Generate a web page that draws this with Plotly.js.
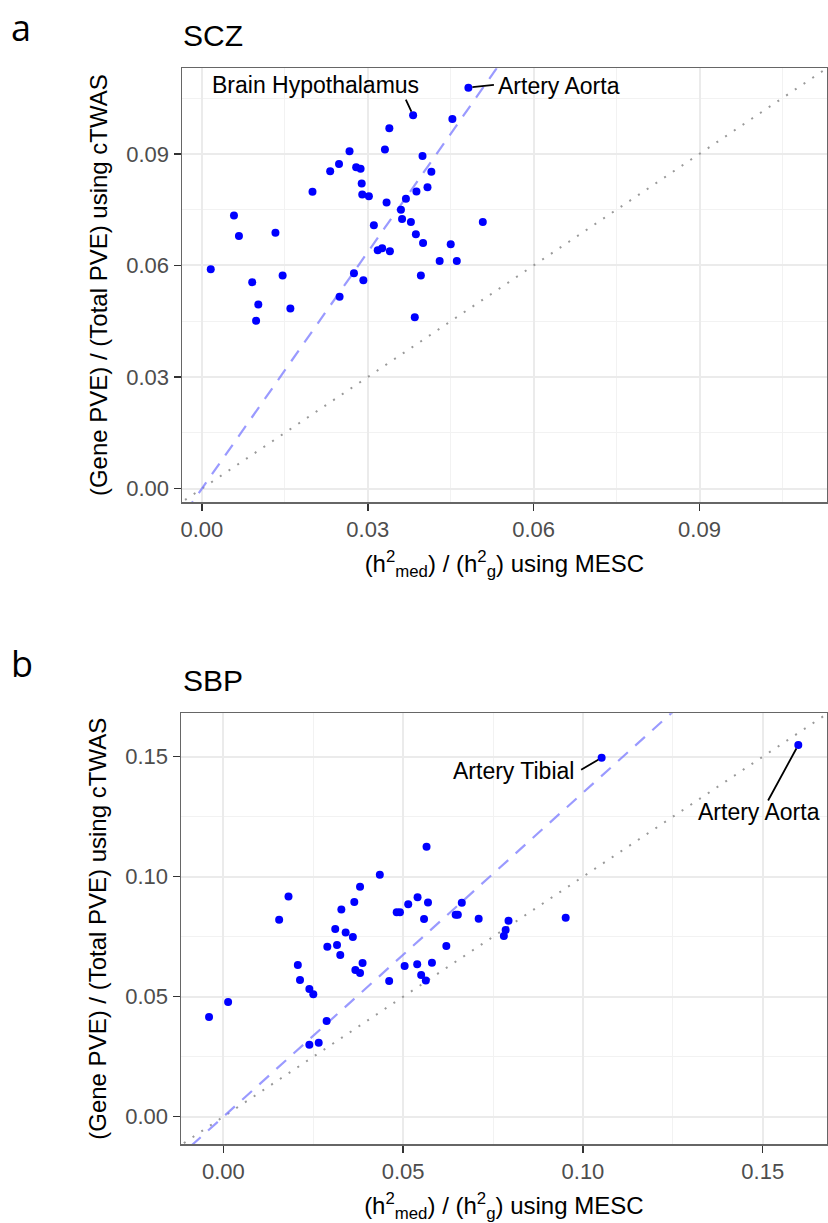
<!DOCTYPE html>
<html>
<head>
<meta charset="utf-8">
<script src="https://cdn.plot.ly/plotly-3.0.1.min.js"></script>
<style>
  html, body { margin: 0; padding: 0; background: #ffffff; }
  #chart { width: 828px; height: 1223px; }
</style>
</head>
<body>
<div id="chart"></div>
<script>
// ---------- Data ----------
// Panel a: SCZ. First two entries are labelled tissues.
const sczLabels = ["Artery Aorta", "Brain Hypothalamus"];
const sczX = [0.0482, 0.0382, 0.0453, 0.0339, 0.0331, 0.0267, 0.0399, 0.0248, 0.0232, 0.0279,
              0.0287, 0.0415, 0.0289, 0.0408, 0.0200, 0.0388, 0.0290, 0.0302, 0.0369, 0.0334,
              0.0360, 0.0362, 0.0378, 0.0058, 0.0067, 0.0133, 0.0508, 0.0311, 0.0387, 0.0400,
              0.0450, 0.0318, 0.0326, 0.0340, 0.0430, 0.0461, 0.0016, 0.0275, 0.0146, 0.0396,
              0.0091, 0.0292, 0.0249, 0.0102, 0.0160, 0.0098, 0.0385];
const sczY = [0.1078, 0.1004, 0.0994, 0.0969, 0.0912, 0.0907, 0.0894, 0.0873, 0.0853, 0.0864,
              0.0860, 0.0852, 0.0820, 0.0810, 0.0798, 0.0799, 0.0791, 0.0786, 0.0779, 0.0769,
              0.0750, 0.0725, 0.0717, 0.0734, 0.0679, 0.0688, 0.0717, 0.0708, 0.0684, 0.0660,
              0.0657, 0.0641, 0.0646, 0.0638, 0.0612, 0.0612, 0.0590, 0.0579, 0.0573, 0.0573,
              0.0555, 0.0560, 0.0516, 0.0495, 0.0484, 0.0451, 0.0461];
const sczSlope = 2.12;   // dashed reference line (blue)

// Panel b: SBP. First two entries are labelled tissues.
const sbpLabels = ["Artery Aorta", "Artery Tibial"];
const sbpX = [0.1599, 0.1052, 0.0565, 0.0435, 0.0380, 0.0181, 0.0364, 0.0540, 0.0569, 0.0514,
              0.0663, 0.0328, 0.0482, 0.0491, 0.0646, 0.0652, 0.0558, 0.0710, 0.0155, 0.0311,
              0.0340, 0.0360, 0.0289, 0.0316, 0.0620, 0.0325, 0.0207, 0.0387, 0.0367, 0.0380,
              0.0504, 0.0539, 0.0580, 0.0550, 0.0563, 0.0461, 0.0213, 0.0239, 0.0250, 0.0013,
              -0.0040, 0.0287, 0.0239, 0.0265, 0.0793, 0.0785, 0.0780, 0.0952];
const sbpY = [0.1549, 0.1496, 0.1125, 0.1008, 0.0958, 0.0918, 0.0895, 0.0914, 0.0893, 0.0885,
              0.0892, 0.0863, 0.0852, 0.0852, 0.0842, 0.0842, 0.0824, 0.0825, 0.0821, 0.0782,
              0.0768, 0.0749, 0.0708, 0.0715, 0.0711, 0.0674, 0.0632, 0.0640, 0.0611, 0.0599,
              0.0628, 0.0635, 0.0642, 0.0590, 0.0568, 0.0565, 0.0570, 0.0532, 0.0510, 0.0478,
              0.0415, 0.0399, 0.0300, 0.0308, 0.0817, 0.0778, 0.0753, 0.0829];
const sbpSlope = 1.35;

const sczTicks = [0, 0.03, 0.06, 0.09];
const sbpTicks = [0, 0.05, 0.10, 0.15];
const sczRange = [-0.0036, 0.1130];
const sbpRangeX = [-0.0118, 0.1678];
const sbpRangeY = [-0.0115, 0.1681];

// ---------- Styling ----------
const FONT = "Liberation Sans, Arial, Helvetica, sans-serif";
const W = 828, H = 1223;
const px = v => v / W;
const py = v => 1 - v / H;

function lineTrace(slope, range, xa, ya, color, dash, width) {
  return {
    x: [range[0] - 1, range[1] + 1],
    y: [slope * (range[0] - 1), slope * (range[1] + 1)],
    xaxis: xa, yaxis: ya, mode: 'lines', hoverinfo: 'skip', showlegend: false,
    line: { color: color, dash: dash, width: width }
  };
}
function pointTrace(xs, ys, xa, ya) {
  return {
    x: xs, y: ys, xaxis: xa, yaxis: ya, mode: 'markers', type: 'scatter',
    showlegend: false, hoverinfo: 'skip',
    marker: { color: '#0000ff', size: 8, line: { width: 0 } }
  };
}

const traces = [
  lineTrace(1, sczRange, 'x', 'y', '#999999', '2px,8.5px', 2),
  lineTrace(sczSlope, sczRange, 'x', 'y', 'rgba(120,120,255,0.75)', '13px,10px', 2.2),
  pointTrace(sczX, sczY, 'x', 'y'),
  lineTrace(1, sbpRangeX, 'x2', 'y2', '#999999', '2px,8.5px', 2),
  lineTrace(sbpSlope, sbpRangeX, 'x2', 'y2', 'rgba(120,120,255,0.75)', '13px,10px', 2.2),
  pointTrace(sbpX, sbpY, 'x2', 'y2')
];

function axisBase(range, ticks, minorStep, domain, anchor, titleText, standoff) {
  return {
    domain: domain, anchor: anchor, range: range,
    tickmode: 'array', tickvals: ticks, ticktext: ticks.map(v => v.toFixed(2)),
    ticks: 'outside', ticklen: 7, tickwidth: 1.5, tickcolor: '#333333',
    tickfont: { family: FONT, size: 22, color: '#4d4d4d' },
    showline: true, mirror: true, linecolor: '#666666', linewidth: 1.5,
    showgrid: true, gridcolor: '#ebebeb', gridwidth: 2,
    zeroline: false,
    minor: { tick0: 0, dtick: minorStep, showgrid: true, gridcolor: '#f2f2f2', gridwidth: 1 },
    title: { text: titleText, font: { family: FONT, size: 24, color: '#000000' }, standoff: standoff },
    fixedrange: true
  };
}

const xTitle = '(h<sup>2</sup><sub>med</sub>) / (h<sup>2</sup><sub>g</sub>) using MESC';
const yTitle = '(Gene PVE) / (Total PVE) using cTWAS';

const layout = {
  width: W, height: H,
  margin: { l: 0, r: 0, t: 0, b: 0 },
  paper_bgcolor: '#ffffff', plot_bgcolor: '#ffffff',
  showlegend: false, hovermode: false,
  xaxis: axisBase(sczRange, sczTicks, 0.015, [px(182), px(826.7)], 'y', xTitle, 14),
  yaxis: axisBase(sczRange, sczTicks, 0.015, [py(502), py(68.3)], 'x', yTitle, 12),
  xaxis2: axisBase(sbpRangeX, sbpTicks, 0.025, [px(181), px(826.7)], 'y2', xTitle, 14),
  yaxis2: axisBase(sbpRangeY, sbpTicks, 0.025, [py(1144.3), py(713.3)], 'x2', yTitle, 12),
  annotations: []
};

const ann = layout.annotations;
const txtFont = { family: FONT, size: 23, color: '#000000' };
function labelArrow(xa, ya, x, y, ax, ay) {
  ann.push({ xref: xa, yref: ya, x: x, y: y, text: '', showarrow: true,
             arrowhead: 0, arrowwidth: 1.8, arrowcolor: '#000000',
             ax: ax, ay: ay, standoff: 4 });
}
function labelText(xa, ya, x, y, text, anchor, xs, ys) {
  ann.push({ xref: xa, yref: ya, x: x, y: y, text: text, showarrow: false,
             xanchor: anchor, yanchor: 'middle', xshift: xs, yshift: ys, font: txtFont });
}
// Panel a labels
labelArrow('x', 'y', sczX[0], sczY[0], 27, -3);
labelText('x', 'y', sczX[0], sczY[0], sczLabels[0], 'left', 28, 2);
labelArrow('x', 'y', sczX[1], sczY[1], -8, -17);
labelText('x', 'y', sczX[1], sczY[1], sczLabels[1], 'right', 8, 30);
// Panel b labels
labelArrow('x2', 'y2', sbpX[0], sbpY[0], -31, 57);
labelText('x2', 'y2', sbpX[0], sbpY[0], sbpLabels[0], 'left', -102, -67);
labelArrow('x2', 'y2', sbpX[1], sbpY[1], -22, 13);
labelText('x2', 'y2', sbpX[1], sbpY[1], sbpLabels[1], 'right', -26, -13);

// Panel titles and letters
const titleFont = { family: FONT, size: 30, color: '#000000' };
const letterFont = { family: "Open Sans, Noto Sans, sans-serif", size: 36, color: '#000000' };
ann.push({ xref: 'paper', yref: 'paper', x: px(181), y: py(35), text: 'SCZ', showarrow: false,
           xanchor: 'left', yanchor: 'middle', font: titleFont });
ann.push({ xref: 'paper', yref: 'paper', x: px(181), y: py(681), text: 'SBP', showarrow: false,
           xanchor: 'left', yanchor: 'middle', font: titleFont });
ann.push({ xref: 'paper', yref: 'paper', x: px(9), y: py(1), text: 'a', showarrow: false,
           xanchor: 'left', yanchor: 'top', font: letterFont });
ann.push({ xref: 'paper', yref: 'paper', x: px(9), y: py(637), text: 'b', showarrow: false,
           xanchor: 'left', yanchor: 'top', font: letterFont });

Plotly.newPlot('chart', traces, layout, { staticPlot: true, displayModeBar: false });
</script>
</body>
</html>
